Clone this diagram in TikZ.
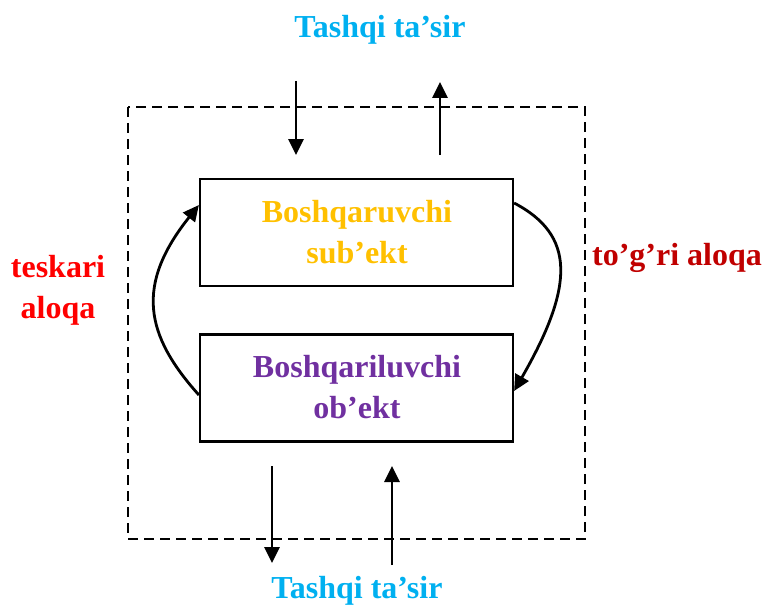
\documentclass[tikz,border=0pt]{standalone}
\usepackage{fontspec}
\setmainfont{Liberation Serif}
\usetikzlibrary{arrows.meta}
\definecolor{cyanT}{HTML}{00B0F0}
\definecolor{goldT}{HTML}{FFC000}
\definecolor{purpT}{HTML}{7030A0}
\definecolor{redT}{HTML}{FF0000}
\definecolor{dredT}{HTML}{C00000}
\tikzset{
  lbl/.style={font=\fontsize{32}{41}\selectfont\bfseries, align=center, inner sep=0pt},
  boxn/.style={draw, line width=2.2pt, minimum width=313pt, minimum height=107pt, inner sep=0pt},
  arr/.style={line width=2.8pt, -{Triangle[length=16pt,width=15pt]}},
  frame/.style={line width=2pt, dash pattern=on 10pt off 6pt}
}
\begin{document}
\begin{tikzpicture}[x=1pt,y=-1pt]
\useasboundingbox (0,0) rectangle (765,607);
\draw[frame] (128,107) rectangle (585,539);
\node[boxn] (top) at (356.5,232.5) {};
\node[boxn] (bot) at (356.5,388) {};
\node[lbl, text=goldT] (toptxt) at (357,232) {Boshqaruvchi\\sub’ekt};
\node[lbl, text=purpT] (bottxt) at (357,387) {Boshqariluvchi\\ob’ekt};
\node[lbl, text=cyanT] (tin) at (380,30) {Tashqi ta’sir};
\node[lbl, text=cyanT] (bin) at (357,591) {Tashqi ta’sir};
\node[lbl, text=redT] (tesk) at (58,290) {teskari\\aloqa};
\node[lbl, text=dredT] (togri) at (677,258) {to’g’ri aloqa};
\coordinate (a1) at (296,81);
\coordinate (a2) at (440,155);
\coordinate (b1) at (272,466);
\coordinate (b2) at (392,565);
\draw[arr] (a1) -- (296,155);
\draw[arr] (a2) -- (440,82);
\draw[arr] (b1) -- (272,563);
\draw[arr] (b2) -- (392,466);
\draw[arr] (bot.west |- 0,395) .. controls (145,335) and (135,285) .. (top.west |- 0,205);
\draw[arr] (top.east |- 0,203) .. controls (575,235) and (575,285) .. (bot.east |- 0,391);
\end{tikzpicture}
\end{document}
